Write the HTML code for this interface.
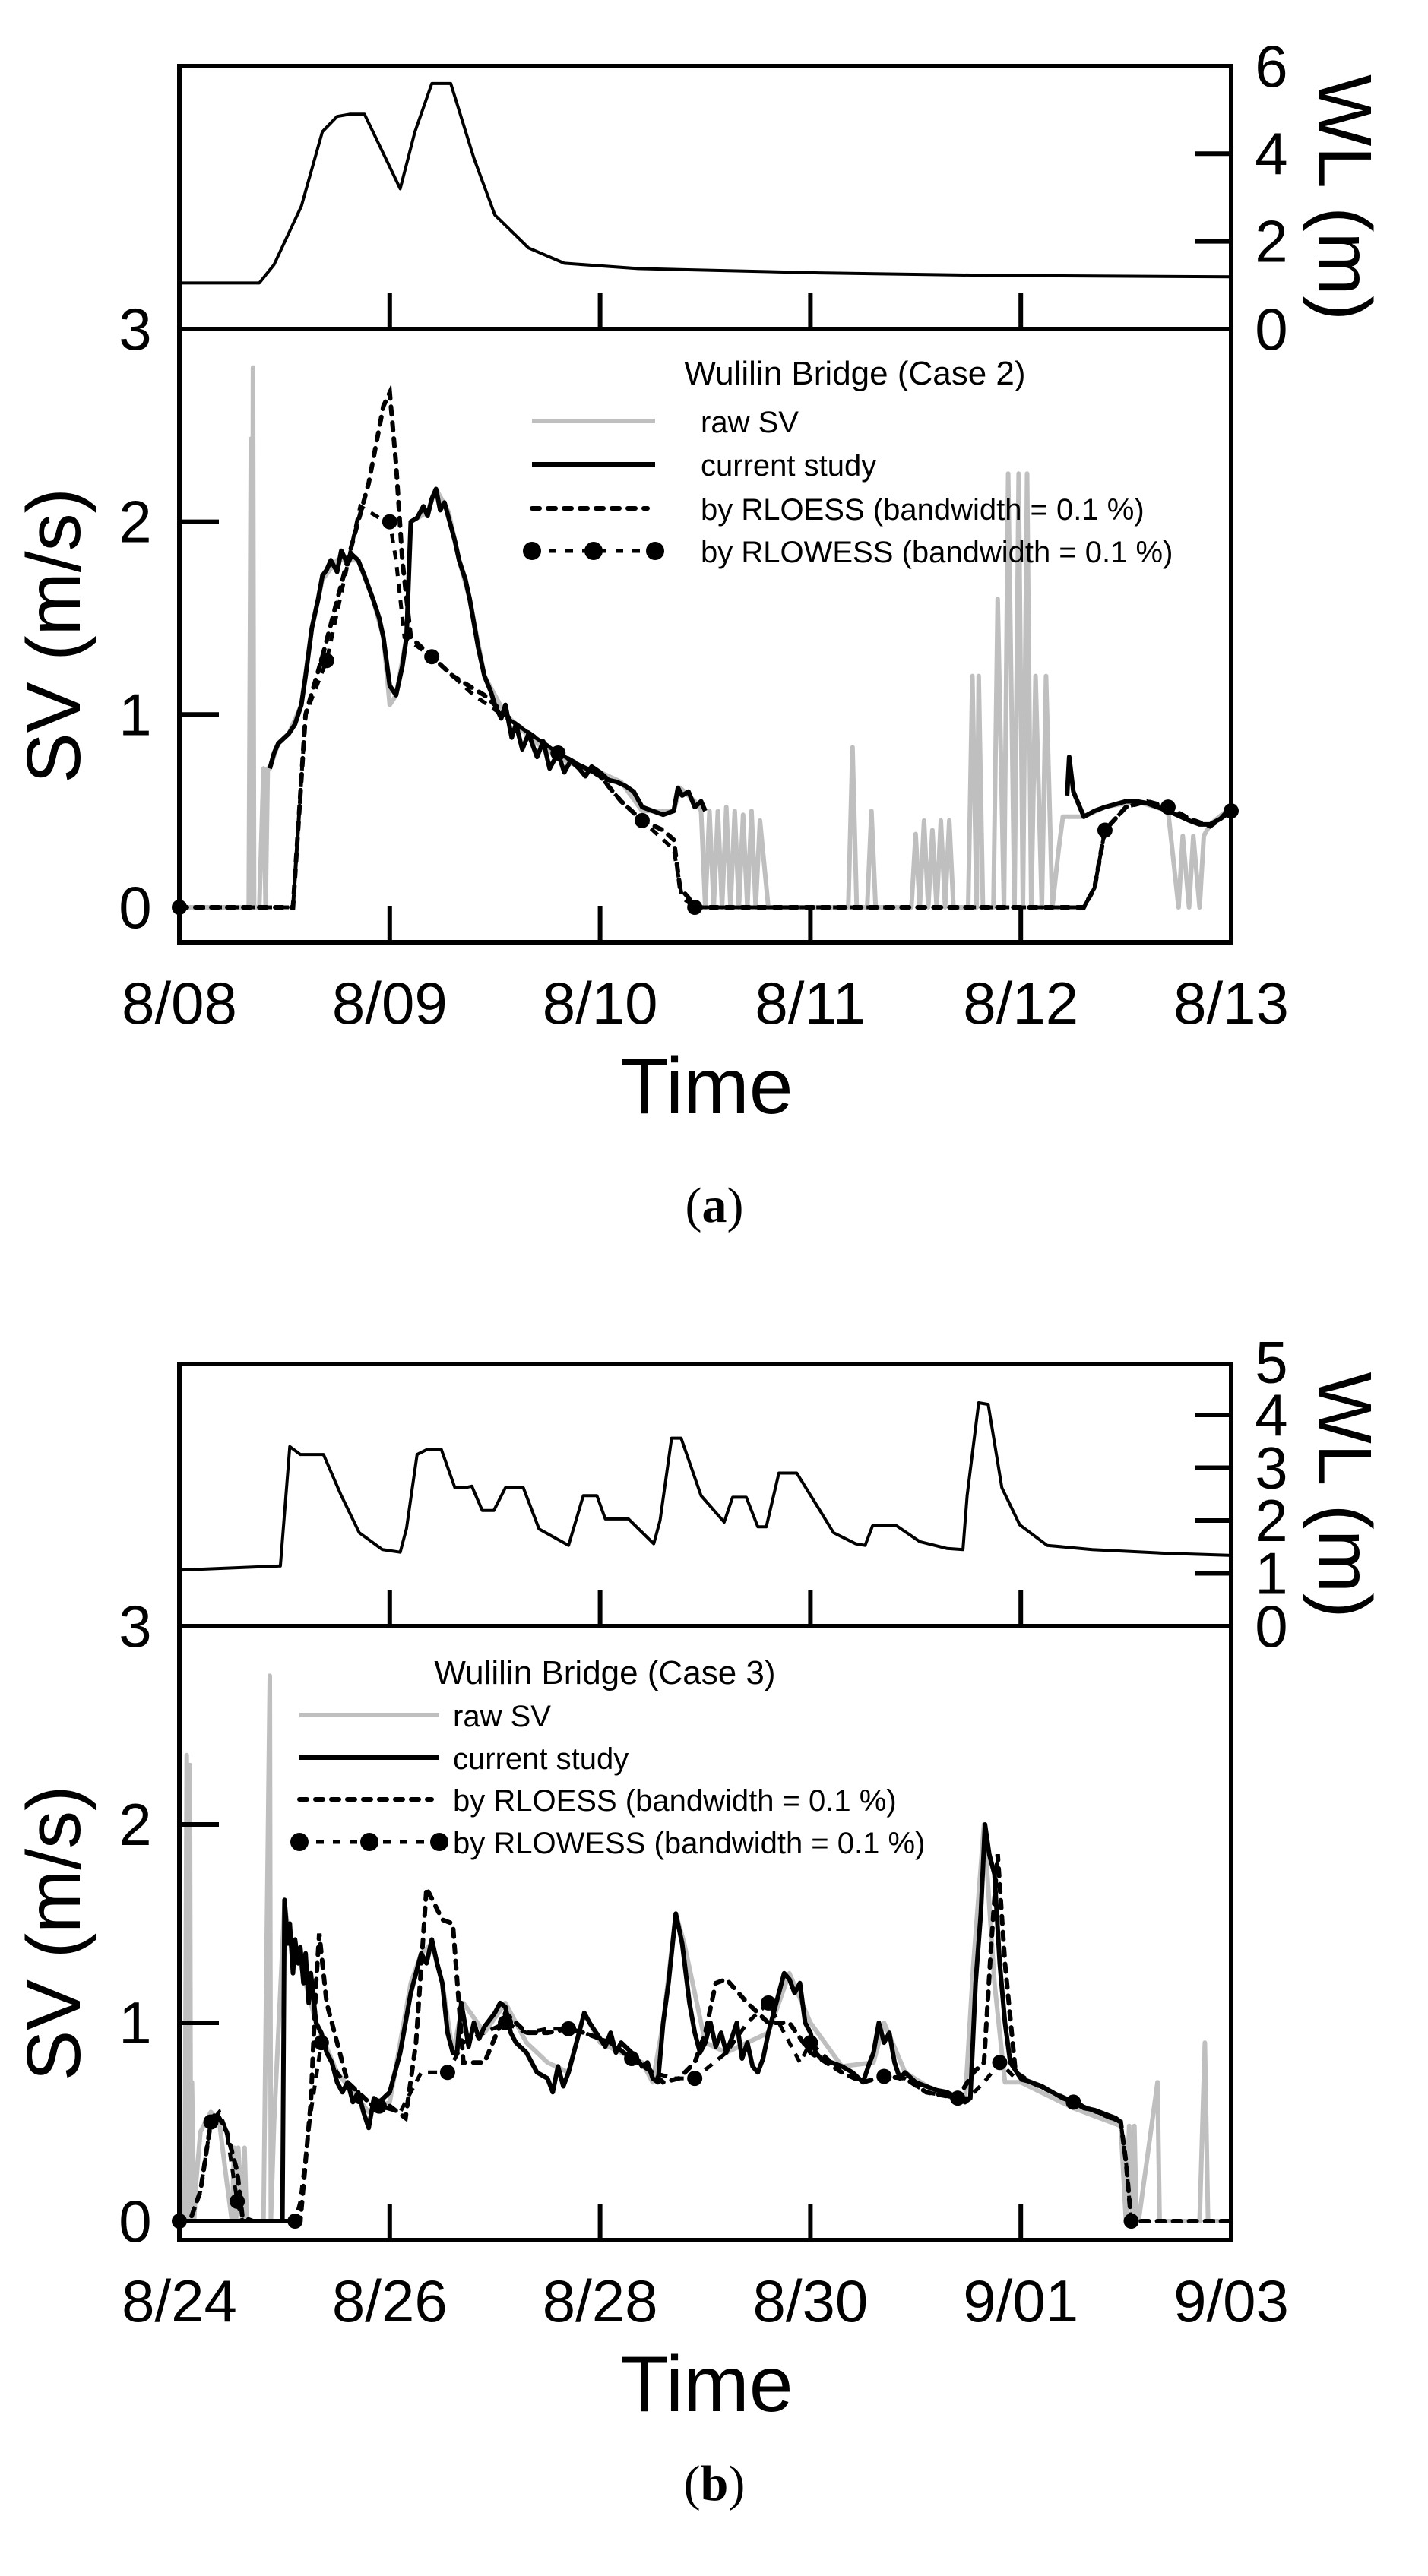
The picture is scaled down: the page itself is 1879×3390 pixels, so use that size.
<!DOCTYPE html>
<html><head><meta charset="utf-8"><style>
html,body{margin:0;padding:0;background:#fff}
svg{display:block}
text{font-family:"Liberation Sans",Arial,sans-serif;fill:#000}
</style></head><body>
<svg id="fig" width="1879" height="3390" viewBox="0 0 1879 3390" xmlns="http://www.w3.org/2000/svg"></svg>
<script>
// ---------- Panel (a) data: days since 8/08 ----------
const aTickLabels = ["8/08","8/09","8/10","8/11","8/12","8/13"];
const aWLDays = [0,0.38,0.45,0.58,0.68,0.75,0.81,0.88,0.97,1.05,1.12,1.2,1.29,1.4,1.5,1.66,1.83,2.18,3.04,3.9,5.0];
const aWLVals = [1.05,1.05,1.47,2.8,4.5,4.85,4.9,4.9,4.0,3.2,4.5,5.6,5.6,3.9,2.6,1.85,1.5,1.38,1.28,1.22,1.19];
const aRawDays = [0,0.33,0.34,0.345,0.35,0.355,0.36,0.38,0.4,0.41,0.42,0.43,0.47,0.52,0.58,0.63,0.68,0.75,0.85,0.92,0.97,1.0,1.03,1.08,1.1,1.18,1.22,1.28,1.33,1.38,1.45,1.55,1.7,1.85,2.0,2.1,2.2,2.35,2.38,2.45,2.48,2.5,2.52,2.54,2.56,2.58,2.6,2.62,2.64,2.66,2.68,2.7,2.72,2.74,2.76,2.8,3.18,3.2,3.22,3.27,3.29,3.31,3.48,3.5,3.52,3.54,3.56,3.58,3.6,3.62,3.64,3.66,3.68,3.75,3.77,3.79,3.8,3.82,3.87,3.89,3.92,3.94,3.97,3.99,4.01,4.03,4.05,4.07,4.1,4.12,4.15,4.18,4.2,4.22,4.3,4.4,4.55,4.7,4.75,4.77,4.8,4.82,4.85,4.87,4.9,5.0];
const aRawVals = [0,0,2.43,0,2.8,0,0,0,0.72,0,0.72,0.72,0.85,0.9,1.05,1.45,1.7,1.8,1.8,1.6,1.4,1.05,1.1,1.4,2.0,2.05,2.17,2.05,1.8,1.6,1.2,1.0,0.85,0.75,0.7,0.65,0.5,0.5,0.62,0.55,0.5,0,0.5,0,0.5,0,0.52,0,0.5,0,0.48,0,0.5,0,0.45,0,0,0.83,0,0,0.5,0,0,0.38,0,0.45,0,0.4,0,0.45,0,0.45,0,0,1.2,0,1.2,0,0,1.6,0,2.25,0,2.25,0,2.25,0,1.2,0,1.2,0,0.3,0.47,0.47,0.47,0.52,0.55,0.5,0,0.37,0,0.37,0,0.37,0.43,0.52];
const aCurDays = [0.43,0.45,0.47,0.5,0.52,0.55,0.58,0.6,0.63,0.66,0.68,0.7,0.72,0.75,0.77,0.8,0.82,0.85,0.88,0.92,0.95,0.97,1.0,1.03,1.06,1.08,1.1,1.13,1.16,1.18,1.2,1.22,1.24,1.26,1.28,1.31,1.33,1.36,1.38,1.42,1.45,1.48,1.5,1.53,1.55,1.58,1.6,1.63,1.66,1.7,1.73,1.76,1.8,1.83,1.86,1.9,1.93,1.96,2.0,2.04,2.08,2.12,2.16,2.2,2.25,2.3,2.35,2.37,2.39,2.42,2.45,2.48,2.5];
const aCurVals = [0.72,0.8,0.85,0.88,0.9,0.95,1.05,1.2,1.45,1.6,1.72,1.75,1.8,1.74,1.85,1.78,1.83,1.8,1.72,1.6,1.5,1.4,1.15,1.1,1.25,1.4,2.0,2.02,2.08,2.03,2.12,2.17,2.06,2.1,2.02,1.9,1.8,1.7,1.6,1.35,1.2,1.12,1.05,0.98,1.05,0.88,0.95,0.82,0.9,0.78,0.86,0.72,0.8,0.7,0.76,0.72,0.68,0.73,0.7,0.66,0.65,0.63,0.6,0.52,0.5,0.48,0.5,0.62,0.58,0.6,0.52,0.55,0.5];
const aCur2Days = [4.22,4.23,4.25,4.3,4.35,4.4,4.5,4.55,4.6,4.7,4.8,4.85,4.9,4.95,5.0];
const aCur2Vals = [0.58,0.78,0.6,0.47,0.5,0.52,0.55,0.55,0.54,0.5,0.45,0.43,0.43,0.46,0.52];
const aLoessDays = [0,0.54,0.6,0.68,0.8,0.9,0.97,1.0,1.03,1.06,1.1,1.2,1.3,1.45,1.6,1.8,2.0,2.1,2.2,2.3,2.35,2.38,2.42,2.45,4.3,4.35,4.4,4.5,4.6,4.7,4.8,4.9,5.0];
const aLoessVals = [0,0,1.0,1.3,1.8,2.2,2.6,2.67,2.3,1.8,1.4,1.3,1.2,1.1,0.95,0.8,0.68,0.55,0.45,0.4,0.35,0.1,0.05,0,0,0.1,0.4,0.52,0.55,0.52,0.46,0.42,0.5];
const aLowessDays = [0,0.54,0.6,0.7,0.86,0.95,1.0,1.03,1.07,1.2,1.4,1.6,1.8,2.0,2.1,2.2,2.35,2.39,2.45,4.3,4.35,4.4,4.5,4.6,4.7,4.8,4.9,5.0];
const aLowessVals = [0,0,1.0,1.28,2.08,2.02,2.0,1.8,1.4,1.3,1.1,0.95,0.8,0.68,0.55,0.45,0.3,0.05,0,0,0.1,0.4,0.52,0.55,0.52,0.46,0.42,0.5];

// ---------- Panel (b) data: days since 8/24 ----------
const bTickLabels = ["8/24","8/26","8/28","8/30","9/01","9/03"];
const bWLDays = [0,0.96,1.05,1.15,1.37,1.54,1.71,1.93,2.1,2.16,2.26,2.36,2.49,2.62,2.71,2.78,2.88,2.99,3.1,3.27,3.42,3.7,3.84,3.97,4.05,4.27,4.51,4.57,4.68,4.77,4.96,5.18,5.26,5.39,5.5,5.58,5.7,5.87,6.09,6.22,6.43,6.52,6.59,6.82,7.04,7.3,7.45,7.49,7.6,7.69,7.82,7.99,8.25,8.68,9.38,10];
const bWLVals = [1.06,1.14,3.4,3.25,3.25,2.47,1.77,1.45,1.4,1.85,3.25,3.35,3.35,2.62,2.62,2.65,2.19,2.19,2.62,2.62,1.84,1.53,2.47,2.47,2.03,2.03,1.56,2.0,3.56,3.56,2.47,1.97,2.44,2.44,1.88,1.88,2.9,2.9,2.19,1.77,1.56,1.53,1.9,1.9,1.6,1.47,1.45,2.47,4.23,4.2,2.62,1.92,1.53,1.45,1.38,1.34];
const bRawDays = [0,0.05,0.07,0.08,0.1,0.11,0.12,0.14,0.16,0.2,0.3,0.38,0.45,0.5,0.52,0.54,0.56,0.6,0.62,0.64,0.66,0.7,0.8,0.86,0.87,0.9,1.0,1.05,1.15,1.3,1.5,1.8,2.0,2.1,2.2,2.3,2.4,2.5,2.6,2.7,2.9,3.1,3.3,3.5,3.7,3.85,4.0,4.2,4.4,4.5,4.6,4.72,4.8,5.0,5.2,5.4,5.6,5.8,6.0,6.3,6.6,6.7,6.9,7.2,7.47,7.55,7.65,7.75,7.85,8.0,8.5,8.95,9.0,9.03,9.06,9.08,9.1,9.12,9.3,9.32,9.35,9.7,9.75,9.78,10];
const bRawVals = [0,0,2.35,0,2.3,0,0.7,0,0.2,0.45,0.55,0.5,0.2,0,0.37,0,0.37,0,0.37,0,0,0,0,2.75,0,0.5,1.6,1.4,1.3,1.0,0.75,0.55,0.6,0.9,1.2,1.35,1.4,1.2,0.85,1.1,0.95,1.1,0.9,0.8,0.75,1.05,0.9,0.85,0.8,0.7,1.0,1.55,1.4,0.9,0.85,0.9,0.95,1.25,1.0,0.78,0.8,1.0,0.75,0.65,0.6,1.3,2.0,1.2,0.7,0.7,0.57,0.48,0,0.48,0,0.48,0,0,0.7,0,0,0,0.9,0,0];
const bCurDays = [0,0.4,0.98,1.0,1.03,1.05,1.08,1.1,1.13,1.15,1.18,1.2,1.23,1.25,1.3,1.35,1.4,1.45,1.5,1.55,1.6,1.65,1.7,1.75,1.8,1.85,1.9,2.0,2.1,2.2,2.3,2.35,2.4,2.45,2.5,2.55,2.6,2.64,2.68,2.72,2.75,2.8,2.85,2.9,3.0,3.05,3.1,3.15,3.2,3.3,3.35,3.4,3.5,3.55,3.6,3.65,3.7,3.8,3.85,3.9,4.0,4.05,4.1,4.15,4.2,4.3,4.35,4.4,4.45,4.5,4.55,4.6,4.65,4.72,4.78,4.85,4.9,4.95,5.0,5.05,5.1,5.15,5.2,5.25,5.3,5.35,5.4,5.45,5.5,5.55,5.6,5.65,5.7,5.75,5.8,5.85,5.9,5.95,6.0,6.05,6.1,6.2,6.3,6.4,6.5,6.55,6.6,6.65,6.7,6.75,6.8,6.85,6.9,7.0,7.1,7.2,7.3,7.4,7.47,7.52,7.57,7.62,7.66,7.7,7.75,7.8,7.85,7.9,8.0,8.1,8.2,8.3,8.4,8.5,8.6,8.7,8.8,8.9,8.95];
const bCurVals = [0,0,0,1.62,1.4,1.5,1.25,1.42,1.3,1.38,1.2,1.35,1.1,1.25,1.0,0.95,0.85,0.8,0.7,0.65,0.7,0.6,0.65,0.55,0.47,0.62,0.6,0.65,0.85,1.15,1.35,1.3,1.42,1.3,1.2,0.95,0.85,0.85,1.1,0.98,0.88,1.0,0.92,0.98,1.05,1.1,1.08,0.95,0.9,0.85,0.8,0.75,0.72,0.65,0.78,0.68,0.75,0.95,1.05,1.0,0.92,0.88,0.95,0.85,0.9,0.85,0.82,0.78,0.8,0.72,0.7,1.0,1.2,1.55,1.4,1.1,0.95,0.85,0.9,1.0,0.88,0.95,0.85,0.92,1.0,0.82,0.9,0.78,0.75,0.82,0.95,1.05,1.15,1.25,1.22,1.15,1.2,1.0,0.95,0.85,0.82,0.8,0.78,0.75,0.7,0.78,0.85,1.0,0.9,0.95,0.8,0.72,0.75,0.7,0.68,0.66,0.65,0.62,0.6,0.62,1.2,1.55,2.0,1.85,1.75,1.3,1.0,0.8,0.72,0.7,0.68,0.65,0.62,0.6,0.57,0.56,0.54,0.52,0.5,0.48];
const bLoessDays = [0,0.1,0.2,0.3,0.35,0.45,0.55,0.6,0.7,1.15,1.25,1.3,1.33,1.4,1.5,1.6,1.8,2.0,2.15,2.25,2.35,2.5,2.6,2.7,2.9,3.1,3.3,3.5,3.7,3.85,4.1,4.3,4.5,4.6,4.75,4.9,5.0,5.1,5.2,5.4,5.6,5.8,6.0,6.3,6.5,6.7,6.9,7.1,7.4,7.55,7.65,7.72,7.78,7.85,7.95,8.1,8.5,8.95,9.0,9.05,10];
const bLoessVals = [0,0,0.15,0.5,0.55,0.45,0.25,0.02,0,0,0.6,1.2,1.45,1.1,0.9,0.7,0.6,0.58,0.52,0.9,1.68,1.52,1.5,0.8,0.8,1.05,0.95,0.95,0.97,0.95,0.9,0.82,0.75,0.7,0.72,0.8,0.95,1.2,1.22,1.1,1.0,1.0,0.85,0.75,0.7,0.73,0.72,0.65,0.62,0.75,0.8,1.4,1.85,1.3,0.75,0.7,0.6,0.5,0.3,0,0];
const bLowessDays = [0,0.1,0.2,0.3,0.38,0.45,0.55,0.6,0.7,1.1,1.15,1.25,1.35,1.5,1.7,1.9,2.1,2.3,2.55,2.7,2.9,3.1,3.3,3.5,3.7,3.85,4.1,4.3,4.5,4.7,4.9,5.2,5.4,5.6,5.75,5.9,6.0,6.3,6.5,6.7,6.9,7.1,7.4,7.5,7.65,7.8,7.95,8.1,8.5,8.95,9.0,9.05,10];
const bLowessVals = [0,0,0.15,0.5,0.55,0.45,0.1,0,0,0,0.1,0.55,0.9,0.75,0.6,0.58,0.55,0.75,0.75,0.9,0.95,1.0,0.95,0.97,0.97,0.95,0.9,0.82,0.75,0.72,0.72,0.85,1.0,1.1,0.95,0.8,0.9,0.75,0.7,0.73,0.72,0.65,0.62,0.62,0.7,0.8,0.72,0.7,0.6,0.5,0.3,0,0];

const NS = "http://www.w3.org/2000/svg";
const svg = document.getElementById("fig");
function mk(tag, attrs, parent) {
  const e = document.createElementNS(NS, tag);
  for (const k in attrs) e.setAttribute(k, attrs[k]);
  (parent || svg).appendChild(e);
  return e;
}
function pts(xs, ys, fx, fy) { return xs.map((d, i) => fx(d).toFixed(1) + "," + fy(ys[i]).toFixed(1)).join(" "); }

function panel(cfg) {
  const g = mk("g", {});
  
  
  const L = 236, R = 1620;
  const fx = d => L + (R - L) * d / cfg.days;
  const fsv = v => cfg.sv0 - v * cfg.svUnit;
  const fwl = v => cfg.div - v * cfg.wlUnit;
  const wl = mk("polyline", {points: pts(cfg.wlD, cfg.wlV, fx, fwl), fill: "none", stroke: "#000", "stroke-width": 4, "stroke-linejoin": "round"}, g);
  
  
  const raw = mk("polyline", {points: pts(cfg.rawD, cfg.rawV, fx, fsv), fill: "none", stroke: "#bfbfbf", "stroke-width": 6, "stroke-linejoin": "round"}, g);
  
  
  cfg.cur.forEach(c => {
    const cl = mk("polyline", {points: pts(c[0], c[1], fx, fsv), fill: "none", stroke: "#000", "stroke-width": 6, "stroke-linejoin": "round"}, g);
    
    
  });
  const lo = mk("polyline", {points: pts(cfg.loD, cfg.loV, fx, fsv), fill: "none", stroke: "#000", "stroke-width": 6, "stroke-dasharray": "10 11", "stroke-linecap": "round"}, g);
  
  
  const lw = mk("polyline", {points: pts(cfg.lwD, cfg.lwV, fx, fsv), fill: "none", stroke: "#000", "stroke-width": 5, "stroke-dasharray": "12 10"}, g);
  
  
  cfg.lwD.forEach((d, i) => {
    if (i % 3 !== 0) return;
    const c = mk("circle", {cx: fx(d), cy: fsv(cfg.lwV[i]), r: 10, fill: "#000"}, g);
    
    
  });
  const fr = mk("rect", {x: L, y: cfg.top, width: R - L, height: cfg.bot - cfg.top, fill: "none", stroke: "#000", "stroke-width": 6}, g);
  
  
  const dv = mk("line", {x1: L, x2: R, y1: cfg.div, y2: cfg.div, stroke: "#000", "stroke-width": 6}, g);
  
  
  cfg.xLabels.forEach((lab, i) => {
    const x = fx(i * cfg.days / (cfg.xLabels.length - 1));
    if (i > 0 && i < cfg.xLabels.length - 1) {
      mk("line", {x1: x, x2: x, y1: cfg.bot, y2: cfg.bot - 48, stroke: "#000", "stroke-width": 6}, g);
      mk("line", {x1: x, x2: x, y1: cfg.div, y2: cfg.div - 48, stroke: "#000", "stroke-width": 6}, g);
    }
    const t = mk("text", {x: x, y: cfg.bot + 107, "text-anchor": "middle", "font-size": 78}, g);
    t.textContent = lab;
    
    
  });
  [0, 1, 2, 3].forEach(v => {
    const y = fsv(v);
    if (v === 1 || v === 2) mk("line", {x1: L, x2: L + 52, y1: y, y2: y, stroke: "#000", "stroke-width": 6}, g);
    const t = mk("text", {x: 178, y: y + 27, "text-anchor": "middle", "font-size": 78}, g);
    t.textContent = v;
    
    
  });
  cfg.wlTicks.forEach(v => {
    const y = fwl(v);
    if (v > 0 && v < cfg.wlTicks[cfg.wlTicks.length - 1]) mk("line", {x1: R, x2: R - 48, y1: y, y2: y, stroke: "#000", "stroke-width": 6}, g);
    const t = mk("text", {x: 1673, y: y + 27, "text-anchor": "middle", "font-size": 78}, g);
    t.textContent = v;
    
    
  });
  const tt = mk("text", {x: 930, y: cfg.bot + 225, "text-anchor": "middle", "font-size": 104}, g);
  tt.textContent = "Time";
  
  
  const sy = (cfg.div + cfg.bot) / 2;
  const st = mk("text", {x: 0, y: 0, "text-anchor": "middle", "font-size": 100, transform: `translate(105,${sy}) rotate(-90)`}, g);
  st.textContent = "SV (m/s)";
  
  
  const wy = (cfg.top + cfg.div) / 2;
  const wt = mk("text", {x: 0, y: 0, "text-anchor": "middle", "font-size": 100, transform: `translate(1735,${wy}) rotate(90)`}, g);
  wt.textContent = "WL (m)";
  
  
  const lg = mk("g", {}, g);
  
  
  const ti = mk("text", {x: cfg.legTitleX, y: cfg.legY[0] + 15, "text-anchor": "middle", "font-size": 44}, lg);
  ti.textContent = cfg.legTitle;
  
  
  const labels = ["raw SV", "current study", "by RLOESS (bandwidth = 0.1 %)", "by RLOWESS (bandwidth = 0.1 %)"];
  labels.forEach((lab, i) => {
    const y = cfg.legY[i + 1];
    const x1 = cfg.legX1, x2 = cfg.legX2;
    if (i === 0) mk("line", {x1, x2, y1: y, y2: y, stroke: "#bfbfbf", "stroke-width": 6}, lg);
    if (i === 1) mk("line", {x1, x2, y1: y, y2: y, stroke: "#000", "stroke-width": 6}, lg);
    if (i === 2) mk("line", {x1, x2: x2 - 10, y1: y, y2: y, stroke: "#000", "stroke-width": 6, "stroke-dasharray": "10 11", "stroke-linecap": "round"}, lg);
    if (i === 3) {
      mk("line", {x1, x2, y1: y, y2: y, stroke: "#000", "stroke-width": 5, "stroke-dasharray": "10 12"}, lg);
      [x1, (x1 + x2) / 2, x2].forEach(cx => mk("circle", {cx, cy: y, r: 12, fill: "#000"}, lg));
    }
    const t = mk("text", {x: cfg.legTextX, y: y + 15, "font-size": 40}, lg);
    t.textContent = lab;
    
    
  });
  const cap = mk("text", {x: 940, y: cfg.capY, "text-anchor": "middle", "font-size": 66, style: "font-family:'Liberation Serif',serif"}, g);
  
  
  const c1 = mk("tspan", {}, cap); c1.textContent = "(";
  const c2 = mk("tspan", {"font-weight": "bold"}, cap); c2.textContent = cfg.cap;
  const c3 = mk("tspan", {}, cap); c3.textContent = ")";
}

panel({name: "panel-a", days: 5, top: 87, div: 433, bot: 1240, sv0: 1194, svUnit: 253.7, wlUnit: 57.7,
  wlD: aWLDays, wlV: aWLVals, rawD: aRawDays, rawV: aRawVals,
  cur: [[aCurDays, aCurVals], [aCur2Days, aCur2Vals]],
  loD: aLoessDays, loV: aLoessVals, lwD: aLowessDays, lwV: aLowessVals,
  xLabels: aTickLabels, wlTicks: [0, 2, 4, 6],
  legTitle: "Wulilin Bridge (Case 2)", legTitleX: 1125, legY: [491, 554, 611, 669, 725],
  legX1: 700, legX2: 862, legTextX: 922, cap: "a", capY: 1608});

panel({name: "panel-b", days: 10, top: 1795, div: 2140, bot: 2948, sv0: 2923, svUnit: 261, wlUnit: 69.5,
  wlD: bWLDays, wlV: bWLVals, rawD: bRawDays, rawV: bRawVals,
  cur: [[bCurDays, bCurVals]],
  loD: bLoessDays, loV: bLoessVals, lwD: bLowessDays, lwV: bLowessVals,
  xLabels: bTickLabels, wlTicks: [0, 1, 2, 3, 4, 5],
  legTitle: "Wulilin Bridge (Case 3)", legTitleX: 796, legY: [2201, 2257, 2313, 2368, 2424],
  legX1: 394, legX2: 578, legTextX: 596, cap: "b", capY: 3290});
</script>
</body></html>
